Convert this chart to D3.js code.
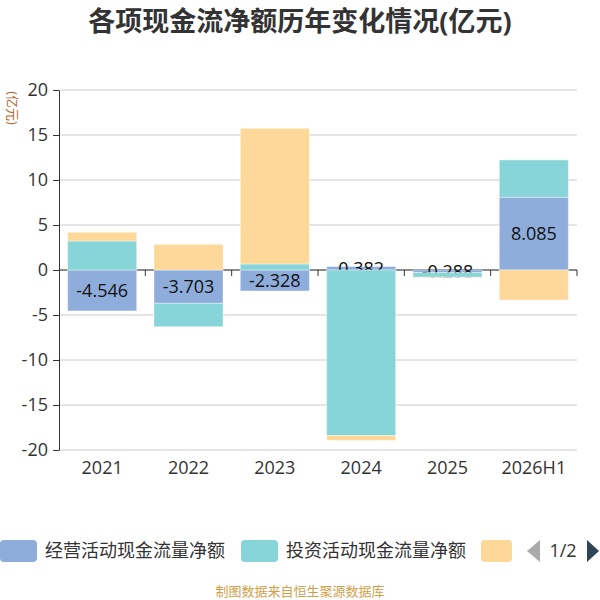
<!DOCTYPE html>
<html>
<head>
<meta charset="utf-8">
<script src="https://cdn.jsdelivr.net/npm/d3@7/dist/d3.min.js"></script>
<style>
  body { margin: 0; background: #fff; }
  svg { display: block; font-family: "Open Sans", "Noto Sans CJK SC", sans-serif; }
</style>
</head>
<body>
<svg id="chart" width="600" height="600"></svg>
<script>
// chart data
let years = ["2021", "2022", "2023", "2024", "2025", "2026H1"];
let seriesNames = ["经营活动现金流量净额", "投资活动现金流量净额", "筹资活动现金流量净额"];
let operating = [-4.546, -3.703, -2.328, 0.382, -0.288, 8.085];
let investing = [3.22, -2.6, 0.67, -18.4, -0.52, 4.14];
let financing = [0.97, 2.85, 15.07, -0.53, -0.05, -3.33];
let yTicks = [-20, -15, -10, -5, 0, 5, 10, 15, 20];
let colors = ["#8eaddb", "#87d5d8", "#fed899"];

let svg = d3.select("#chart");

let x = d3.scaleBand().domain(years).range([59, 577]).paddingInner(0.2).paddingOuter(0.1);
let xEdge = d3.scaleBand().domain(years).range([59, 577]);
let y = d3.scaleLinear().domain([-20, 20]).range([450, 90]);

// title
svg.append("text")
    .attr("x", 300).attr("y", 31)
    .attr("text-anchor", "middle")
    .style("font-size", "27px").style("font-weight", "bold")
    .style("fill", "#333")
    .text("各项现金流净额历年变化情况(亿元)");

// y axis name
svg.append("text")
    .attr("transform", "translate(13,108) rotate(90)")
    .attr("text-anchor", "middle")
    .attr("dy", "0.35em")
    .style("font-size", "13px")
    .style("fill", "#b5652b")
    .text("(亿元)");

// grid lines
svg.append("g").selectAll("line")
    .data(yTicks)
    .join("line")
    .attr("x1", 59).attr("x2", 577)
    .attr("y1", d => y(d)).attr("y2", d => y(d))
    .attr("stroke", "#ccc").attr("stroke-width", 1);

// y axis
let yAxis = svg.append("g")
    .attr("transform", "translate(59,0)")
    .call(d3.axisLeft(y).tickValues(yTicks).tickFormat(d => String(d))
        .tickSize(6).tickPadding(5).tickSizeOuter(0));
yAxis.select(".domain").attr("stroke", "#333");
yAxis.selectAll(".tick line").attr("stroke", "#333");
yAxis.selectAll(".tick text").style("font-size", "18px").style("fill", "#333")
    .style("font-family", "'Open Sans', sans-serif");

// x axis at zero with ticks on category boundaries
let xAxis = svg.append("g");
xAxis.append("line")
    .attr("x1", 59).attr("x2", 577)
    .attr("y1", y(0)).attr("y2", y(0))
    .attr("stroke", "#333");
let edges = years.map(d => xEdge(d)).concat([xEdge(years[years.length - 1]) + xEdge.step()]);
xAxis.selectAll(".tk")
    .data(edges.slice(1))
    .join("line")
    .attr("class", "tk")
    .attr("x1", d => d).attr("x2", d => d)
    .attr("y1", y(0)).attr("y2", y(0) + 6)
    .attr("stroke", "#333");
svg.append("g").selectAll("text")
    .data(years)
    .join("text")
    .attr("x", d => x(d) + x.bandwidth() / 2)
    .attr("y", 474)
    .attr("text-anchor", "middle")
    .style("font-size", "18px").style("fill", "#333")
    .text(d => d);

// stacking (same sign)
let posBase = years.map(() => 0);
let negBase = years.map(() => 0);
function stackSeries(values) {
    return values.map(function(v, i) {
        let y0, y1;
        if (v >= 0) { y0 = posBase[i]; y1 = y0 + v; posBase[i] = y1; }
        else { y0 = negBase[i]; y1 = y0 + v; negBase[i] = y1; }
        return { year: years[i], v: v, y0: y0, y1: y1 };
    });
}

let allSeries = [operating, investing, financing];
allSeries.forEach(function(values, si) {
    let stacked = stackSeries(values);
    svg.append("g").selectAll("rect")
        .data(stacked)
        .join("rect")
        .attr("x", d => x(d.year))
        .attr("width", x.bandwidth())
        .attr("y", d => Math.min(y(d.y0), y(d.y1)))
        .attr("height", d => Math.abs(y(d.y0) - y(d.y1)))
        .attr("fill", colors[si])
        .attr("stroke", "rgba(255,255,255,0.4)")
        .attr("stroke-width", 1);
    if (si === 0) {
        // labels sit under the later series, as in the original
        svg.append("g").selectAll("text")
            .data(stacked)
            .join("text")
            .attr("x", d => x(d.year) + x.bandwidth() / 2)
            .attr("y", d => (y(d.y0) + y(d.y1)) / 2)
            .attr("dy", "0.35em")
            .attr("text-anchor", "middle")
            .style("font-size", "18px").style("fill", "#111")
            .text(d => d.v.toFixed(3));
    }
});

// legend (page 1 of 2)
let legend = svg.append("g");
let legendX = [0, 241, 481];
let legendW = [37, 37, 31];
seriesNames.forEach(function(name, i) {
    legend.append("rect")
        .attr("x", legendX[i]).attr("y", 540)
        .attr("width", legendW[i]).attr("height", 22)
        .attr("rx", 4)
        .attr("fill", colors[i]);
    if (i < 2) {
        legend.append("text")
            .attr("x", legendX[i] + 45).attr("y", 551)
            .attr("dy", "0.35em")
            .style("font-size", "18px").style("fill", "#333")
            .text(name);
    }
});
legend.append("path")
    .attr("d", "M540,540 L527,551 L540,562 Z")
    .attr("fill", "#aaa");
legend.append("text")
    .attr("x", 563).attr("y", 551).attr("dy", "0.35em")
    .attr("text-anchor", "middle")
    .style("font-size", "18px").style("fill", "#333")
    .text("1/2");
legend.append("path")
    .attr("d", "M587,540 L599,551 L587,562 Z")
    .attr("fill", "#2f4554");

// source note
svg.append("text")
    .attr("x", 300).attr("y", 596)
    .attr("text-anchor", "middle")
    .style("font-size", "13px").style("fill", "#d09f4c")
    .text("制图数据来自恒生聚源数据库");
</script>
</body>
</html>
